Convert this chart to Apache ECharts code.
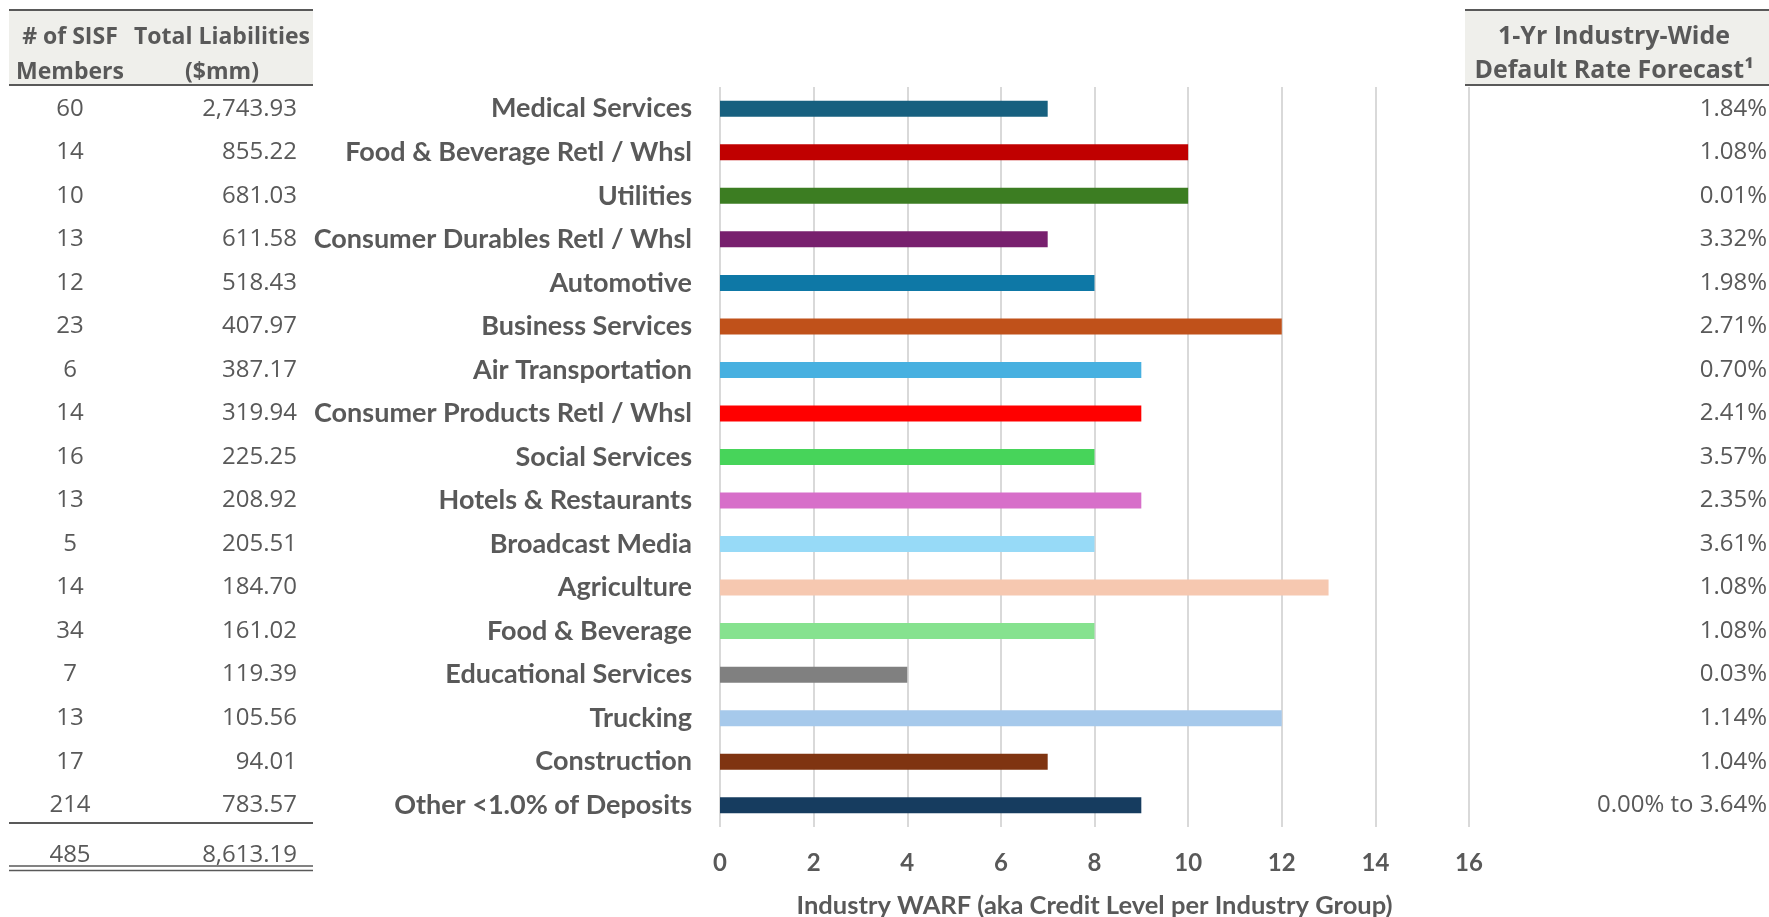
<!DOCTYPE html>
<html>
<head>
<meta charset="utf-8">
<script src="https://cdn.jsdelivr.net/npm/echarts@6/dist/echarts.min.js"></script>
<style>
  html, body { margin: 0; padding: 0; background: #ffffff; }
  #chart { width: 1769px; height: 917px; }
</style>
</head>
<body>
<div id="chart"></div>
<script>
// Industry groups, top to bottom
const industries = [
  'Medical Services', 'Food & Beverage Retl / Whsl', 'Utilities', 'Consumer Durables Retl / Whsl',
  'Automotive', 'Business Services', 'Air Transportation', 'Consumer Products Retl / Whsl',
  'Social Services', 'Hotels & Restaurants', 'Broadcast Media', 'Agriculture',
  'Food & Beverage', 'Educational Services', 'Trucking', 'Construction', 'Other <1.0% of Deposits'
];
// Industry WARF (credit level per industry group)
const warf = [7, 10, 10, 7, 8, 12, 9, 9, 8, 9, 8, 13, 8, 4, 12, 7, 9];
// Number of SISF members per industry
const members = [60, 14, 10, 13, 12, 23, 6, 14, 16, 13, 5, 14, 34, 7, 13, 17, 214];
// Total liabilities ($mm)
const liabilities = [2743.93, 855.22, 681.03, 611.58, 518.43, 407.97, 387.17, 319.94,
  225.25, 208.92, 205.51, 184.70, 161.02, 119.39, 105.56, 94.01, 783.57];
// 1-yr industry-wide default rate forecast
const defaultRates = ['1.84%', '1.08%', '0.01%', '3.32%', '1.98%', '2.71%', '0.70%', '2.41%',
  '3.57%', '2.35%', '3.61%', '1.08%', '1.08%', '0.03%', '1.14%', '1.04%', '0.00% to 3.64%'];
// Table totals
const totalMembers = 485;
const totalLiabilities = 8613.19;
// Bar colour per industry
const barColors = ['#17607f', '#c00000', '#3c7d22', '#78206e', '#0e78a6', '#c0511a', '#47b0e0',
  '#ff0000', '#47d45a', '#d76fc9', '#97daf7', '#f6c8b0', '#86e28f', '#808080', '#a6c9eb',
  '#7f3411', '#163c5f'];
const xTicks = { min: 0, max: 16, interval: 2 };

const TEXT = '#595959';
const NUM_FONT = '"Open Sans", sans-serif';
const LABEL_FONT = 'Lato, sans-serif';
const fmt2 = v => v.toLocaleString('en-US', { minimumFractionDigits: 2, maximumFractionDigits: 2 });

const chart = echarts.init(document.getElementById('chart'), null, { renderer: 'canvas' });

// Extra category axes carry the table columns so rows line up with the bars
const tableAxis = (data, position, offset, align) => ({
  type: 'category',
  inverse: true,
  data: data,
  position: position,
  offset: offset,
  axisLine: { show: false },
  axisTick: { show: false },
  splitLine: { show: false },
  axisLabel: { margin: 0, align: align, color: TEXT, fontSize: 24, fontFamily: NUM_FONT }
});

const hLine = (x1, x2, y, w) => ({
  type: 'line', shape: { x1: x1, y1: y, x2: x2, y2: y },
  style: { stroke: TEXT, lineWidth: w }, z: 10
});
const headText = (x, y, text, size) => ({
  type: 'text', x: x, y: y, z: 10,
  style: { text: text, fill: TEXT, font: 'bold ' + size + 'px ' + NUM_FONT, textAlign: 'center', textVerticalAlign: 'middle' }
});
const cellText = (x, y, text, align) => ({
  type: 'text', x: x, y: y, z: 10,
  style: { text: text, fill: TEXT, font: '24px ' + NUM_FONT, textAlign: align, textVerticalAlign: 'middle' }
});

chart.setOption({
  animation: false,
  backgroundColor: '#ffffff',
  grid: { left: 720, right: 300, top: 87, bottom: 90, containLabel: false, outerBoundsMode: 'none' },
  xAxis: {
    type: 'value',
    min: xTicks.min, max: xTicks.max, interval: xTicks.interval,
    axisLine: { show: false },
    axisTick: { show: false },
    splitLine: { show: true, lineStyle: { color: '#d9d9d9', width: 2 } },
    axisLabel: { margin: 24, color: TEXT, fontSize: 24, fontWeight: 'bold', fontFamily: LABEL_FONT },
    name: 'Industry WARF (aka Credit Level per Industry Group)',
    nameLocation: 'middle',
    nameGap: 66,
    nameTextStyle: { color: TEXT, fontSize: 25.5, fontWeight: 'bold', fontFamily: LABEL_FONT }
  },
  yAxis: [
    {
      type: 'category',
      inverse: true,
      data: industries,
      axisLine: { show: false },
      axisTick: { show: false },
      splitLine: { show: false },
      axisLabel: { margin: 28, color: TEXT, fontSize: 27, fontWeight: 'bold', fontFamily: LABEL_FONT }
    },
    tableAxis(members.map(String), 'left', 650, 'center'),
    tableAxis(liabilities.map(fmt2), 'left', 423, 'right'),
    tableAxis(defaultRates, 'right', 298, 'right')
  ],
  series: [{
    type: 'bar',
    yAxisIndex: 0,
    barWidth: 16,
    data: warf.map((v, i) => ({ value: v, itemStyle: { color: barColors[i] } }))
  }],
  graphic: [
    // left table header
    { type: 'rect', shape: { x: 9, y: 10, width: 304, height: 75 }, style: { fill: '#efefeb' }, z: 5 },
    hLine(9, 313, 10, 2), hLine(9, 313, 85, 2),
    headText(70, 37, '# of SISF', 23), headText(70, 72, 'Members', 23),
    headText(222, 37, 'Total Liabilities', 23), headText(222, 72, '($mm)', 23),
    // right table header
    { type: 'rect', shape: { x: 1465, y: 10, width: 304, height: 75 }, style: { fill: '#efefeb' }, z: 5 },
    hLine(1465, 1769, 10, 2), hLine(1465, 1769, 85, 2),
    headText(1614, 37, '1-Yr Industry-Wide', 25), headText(1614, 71, 'Default Rate Forecast\u00b9', 25),
    // totals
    hLine(9, 313, 823, 2),
    cellText(70, 855, String(totalMembers), 'center'),
    cellText(297, 855, fmt2(totalLiabilities), 'right'),
    hLine(9, 313, 866, 1.5), hLine(9, 313, 870.5, 1.5)
  ]
});
</script>
</body>
</html>
